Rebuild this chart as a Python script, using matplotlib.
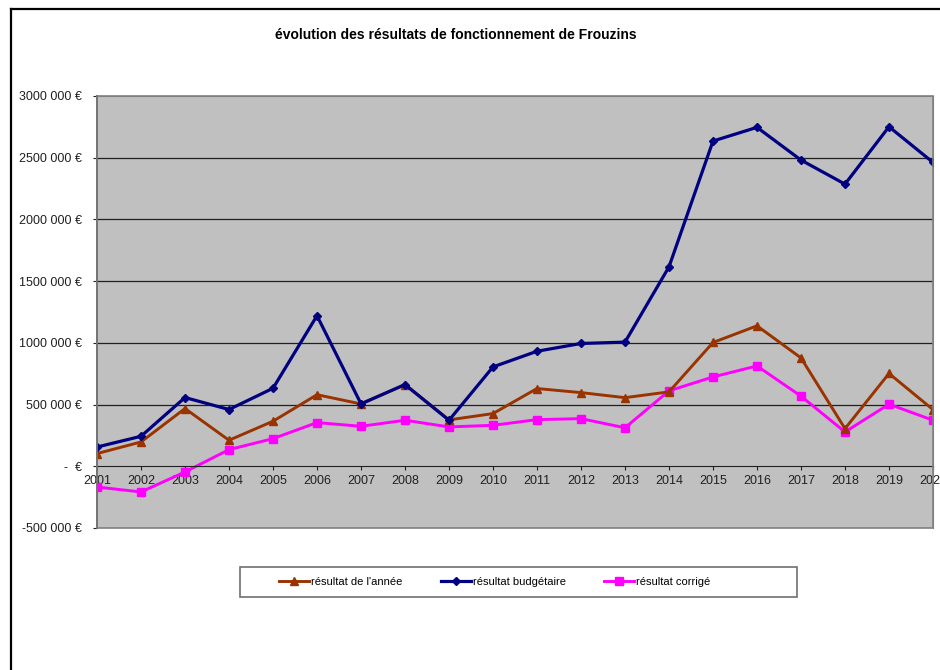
import matplotlib
matplotlib.use("Agg")
import matplotlib.pyplot as plt
from matplotlib.lines import Line2D
from matplotlib.patches import Rectangle

plt.rcParams['font.family'] = ['Liberation Sans', 'DejaVu Sans']

# data
years = list(range(2001, 2021))
resultat_annee = [103000, 197000, 468000, 211000, 365000, 580000, 505000, 662000, 376000, 427000,
                  630000, 597000, 556000, 603000, 1003000, 1138000, 878000, 305000, 752000, 459000]
resultat_budgetaire = [156000, 243000, 557000, 460000, 632000, 1220000, 506000, 662000, 373000, 805000,
                       932000, 995000, 1006000, 1616000, 2635000, 2746000, 2481000, 2286000, 2751000, 2462000]
resultat_corrige = [-168000, -208000, -46000, 135000, 224000, 354000, 324000, 373000, 319000, 332000,
                    378000, 386000, 312000, 611000, 724000, 813000, 568000, 278000, 503000, 373000]
yticks = [-500000, 0, 500000, 1000000, 1500000, 2000000, 2500000, 3000000]
ytick_labels = ['-500 000 €', '-  €', '500 000 €', '1000 000 €', '1500 000 €',
                '2000 000 €', '2500 000 €', '3000 000 €']

fig = plt.figure(figsize=(9.4, 6.7), dpi=100)
ax = fig.add_axes([97/940, 1-528/670, (933-97)/940, (528-96)/670])
ax.set_facecolor('#C0C0C0')

ax.plot(years, resultat_annee, color='#993300', lw=2.1, marker='^', ms=6, label="résultat de l'année", zorder=3)
ax.plot(years, resultat_budgetaire, color='#000080', lw=2.3, marker='D', ms=4, label='résultat budgétaire', zorder=4)
ax.plot(years, resultat_corrige, color='#FF00FF', lw=2.1, marker='s', ms=6, label='résultat corrigé', zorder=2)

ax.set_xlim(2001, 2020)
ax.set_ylim(-500000, 3000000)
ax.set_yticks(yticks)
ax.set_yticklabels(ytick_labels)
ax.set_xticks(years)
ax.set_xticklabels([str(y) for y in years])
for v in yticks[2:-1]:
    ax.axhline(v, color='#202020', lw=0.9, zorder=1)

# x axis crosses at zero like in excel
ax.spines['bottom'].set_position(('data', 0))
ax.spines['bottom'].set_color('#202020')
ax.spines['left'].set_color('#202020')
ax.spines['top'].set_color('#808080')
ax.spines['right'].set_color('#808080')
ax.spines['left'].set_linewidth(1.2)
ax.add_patch(Rectangle((0, 0), 1, 1, transform=ax.transAxes, fill=False,
                       edgecolor='#808080', lw=1.2, clip_on=False, zorder=5))
ax.tick_params(axis='both', labelsize=9, colors='#202020', length=3, direction='out')
ax.tick_params(axis='x', pad=3)
ax.tick_params(axis='y', pad=8)

fig.text(456/940, 1-35/670, 'évolution des résultats de fonctionnement de Frouzins',
         ha='center', va='center', fontsize=10, fontweight='bold')

# legend box + entries
fig.add_artist(Rectangle((240/940, 1-597/670), (797-240)/940, 30/670, transform=fig.transFigure,
                         fill=False, edgecolor='#707070', lw=1.2))
fig.legend(loc='center left', bbox_to_anchor=(279/940, 1-582/670),
           ncol=3, fontsize=8, frameon=False, handlelength=2.7, handletextpad=0.15,
           columnspacing=3.5, borderpad=0, borderaxespad=0)

# outer chart frame
fig.add_artist(Line2D([11/940, 11/940], [0, 1-9/670], color='black', lw=1.6))
fig.add_artist(Line2D([11/940, 1], [1-9/670, 1-9/670], color='black', lw=1.6))

fig.savefig('out.png', dpi=100)
